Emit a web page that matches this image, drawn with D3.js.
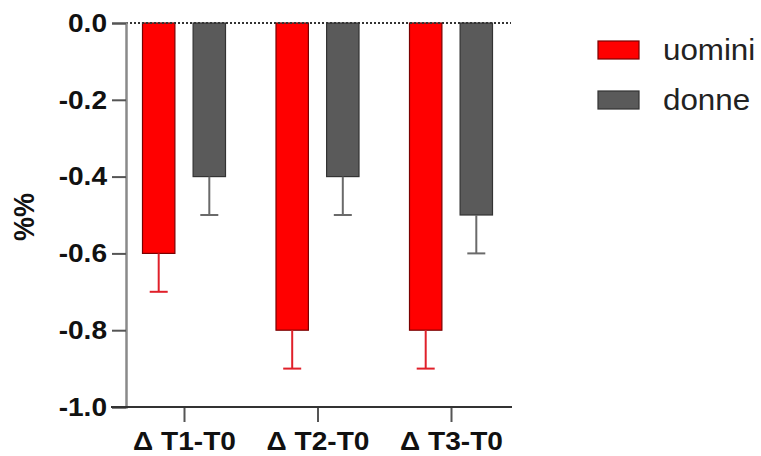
<!DOCTYPE html>
<html><head><meta charset="utf-8">
<script src="https://cdn.jsdelivr.net/npm/d3@7"></script>
<style>body{margin:0;background:#fff}svg{display:block}</style>
</head><body><svg id="c" width="761" height="456"></svg>
<script>
const categories = ["Δ T1-T0", "Δ T2-T0", "Δ T3-T0"];
const seriesNames = ["uomini", "donne"];
const uomini = [-0.6, -0.8, -0.8];
const uominiErr = [0.1, 0.1, 0.1];
const donne = [-0.4, -0.4, -0.5];
const donneErr = [0.1, 0.1, 0.1];
const yTicks = [0.0, -0.2, -0.4, -0.6, -0.8, -1.0];
const colors = {uomini: "#ff0000", donne: "#5a5a5a"};
const strokes = {uomini: "#7a0000", donne: "#333333"};
const errColors = {uomini: "#e0202a", donne: "#6a6a6a"};

const S = 1.08; // horizontal text stretch
const svg = d3.select("#c");
const font = "Arial, 'Liberation Sans', sans-serif";
const y = d3.scaleLinear().domain([-1, 0]).range([407, 23]);
const x0 = d3.scalePoint().domain(categories).range([184, 451]);
const x1 = d3.scaleBand().domain(seriesNames).range([-42, 42]).paddingInner(0.34);

const data = [];
categories.forEach((c, i) => {
  data.push({cat: c, s: "uomini", v: uomini[i], e: uominiErr[i]});
  data.push({cat: c, s: "donne", v: donne[i], e: donneErr[i]});
});

svg.selectAll("rect.bar").data(data).enter().append("rect")
  .attr("x", d => x0(d.cat) + x1(d.s) + 0.5)
  .attr("y", y(0))
  .attr("width", x1.bandwidth() - 1)
  .attr("height", d => y(d.v) - y(0))
  .attr("fill", d => colors[d.s])
  .attr("stroke", d => strokes[d.s])
  .attr("stroke-width", 1.2);

const eg = svg.selectAll("g.err").data(data).enter().append("g")
  .attr("stroke", d => errColors[d.s]).attr("stroke-width", 2);
eg.append("line")
  .attr("x1", d => x0(d.cat) + x1(d.s) + x1.bandwidth()/2)
  .attr("x2", d => x0(d.cat) + x1(d.s) + x1.bandwidth()/2)
  .attr("y1", d => y(d.v)).attr("y2", d => y(d.v - d.e));
eg.append("line")
  .attr("x1", d => x0(d.cat) + x1(d.s) + x1.bandwidth()/2 - 9)
  .attr("x2", d => x0(d.cat) + x1(d.s) + x1.bandwidth()/2 + 9)
  .attr("y1", d => y(d.v - d.e)).attr("y2", d => y(d.v - d.e));

svg.append("line").attr("x1", 126).attr("x2", 511).attr("y1", y(0)).attr("y2", y(0))
  .attr("stroke", "#333").attr("stroke-width", 2).attr("stroke-dasharray", "2,2");

const yAxis = d3.axisLeft(y).tickValues(yTicks).tickSize(14).tickPadding(5);
const ya = svg.append("g").attr("transform", "translate(126,0)").call(yAxis);
ya.select(".domain").attr("stroke", "#8a8a8a").attr("stroke-width", 2.5);
ya.selectAll(".tick line").attr("stroke", "#555").attr("stroke-width", 2);
ya.selectAll("text").attr("font-family", font).attr("font-weight", "bold").attr("font-size", 26).attr("fill", "#111")
  .text(d => d3.format(".1f")(d).replace("−", "-"))
  .attr("x", -19 / S).attr("transform", `scale(${S},1)`);

const xAxis = d3.axisBottom(x0).tickSize(15).tickPadding(10);
const xa = svg.append("g").attr("transform", `translate(0,${y(-1)})`).call(xAxis);
xa.select(".domain").remove();
xa.append("line").attr("x1", 111).attr("x2", 512).attr("y1", 0).attr("y2", 0).attr("stroke", "#333").attr("stroke-width", 2);
xa.selectAll(".tick line").attr("stroke", "#555").attr("stroke-width", 2);
xa.selectAll("text").attr("font-family", font).attr("font-weight", "bold").attr("font-size", 26).attr("fill", "#111")
  .attr("transform", `scale(${S},1)`);

svg.append("text").attr("transform", `translate(34,217) rotate(-90) scale(1,${S})`)
  .attr("text-anchor", "middle").attr("font-family", font).attr("font-weight", "bold").attr("font-size", 27).attr("fill", "#111")
  .text("%%");

const lg = svg.selectAll("g.leg").data(seriesNames).enter().append("g")
  .attr("transform", (d, i) => `translate(598,${41 + i * 50})`);
lg.append("rect").attr("width", 41).attr("height", 18)
  .attr("fill", d => colors[d]).attr("stroke", d => strokes[d]).attr("stroke-width", 1.2);
lg.append("text").attr("x", 65 / S).attr("y", 9).attr("dy", "0.36em").attr("transform", `scale(${S},1)`)
  .attr("font-family", font).attr("font-size", 29).attr("fill", "#222").text(d => d);
</script></body></html>
